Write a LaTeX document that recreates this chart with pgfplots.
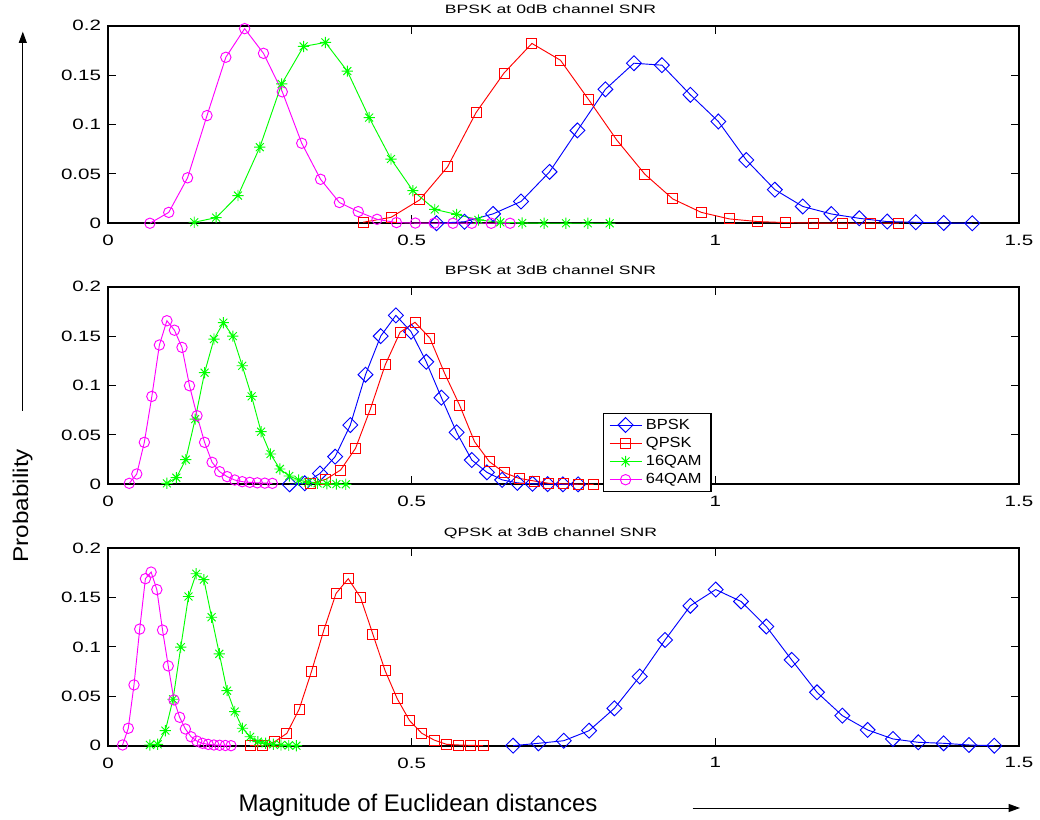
\documentclass[border=0pt]{standalone}
\usepackage{fontspec}
\setmainfont{Liberation Sans}
\newfontfamily\tickfont[FakeStretch=1.37]{Liberation Sans}
\newfontfamily\titlefont[FakeStretch=1.45]{Liberation Sans}
\newfontfamily\legfont[FakeStretch=1.12]{Liberation Sans}
\usepackage{pgfplots}
\pgfplotsset{compat=1.18}
\usetikzlibrary{arrows.meta}

\definecolor{mblue}{RGB}{0,0,255}
\definecolor{mred}{RGB}{255,0,0}
\definecolor{mgreen}{RGB}{0,255,0}
\definecolor{mmagenta}{RGB}{255,0,255}

% eight-armed asterisk marker
\pgfdeclareplotmark{mstar}{%
  \pgfpathmoveto{\pgfqpoint{-\pgfplotmarksize}{0pt}}%
  \pgfpathlineto{\pgfqpoint{\pgfplotmarksize}{0pt}}%
  \pgfpathmoveto{\pgfqpoint{0pt}{-\pgfplotmarksize}}%
  \pgfpathlineto{\pgfqpoint{0pt}{\pgfplotmarksize}}%
  \pgfpathmoveto{\pgfqpoint{-.707\pgfplotmarksize}{-.707\pgfplotmarksize}}%
  \pgfpathlineto{\pgfqpoint{.707\pgfplotmarksize}{.707\pgfplotmarksize}}%
  \pgfpathmoveto{\pgfqpoint{-.707\pgfplotmarksize}{.707\pgfplotmarksize}}%
  \pgfpathlineto{\pgfqpoint{.707\pgfplotmarksize}{-.707\pgfplotmarksize}}%
  \pgfusepathqstroke}

\pgfplotsset{
  panel/.style={
    scale only axis, width=683.25pt, height=148.2pt, anchor=south west,
    xmin=0, xmax=1.5, ymin=0, ymax=0.2,
    xtick={0,0.5,1,1.5}, xticklabels={0,0.5,1,1.5},
    ytick={0,0.05,0.1,0.15,0.2}, yticklabels={0,0.05,0.1,0.15,0.2},
    tick pos=both, tick align=inside, major tick length=6pt,
    axis line style={line width=1.3pt},
    every tick/.style={black, line width=0.8pt},
    xticklabel style={font=\tickfont\fontsize{11.25}{13}\selectfont, anchor=north, inner sep=0pt, yshift=-8.8pt},
    yticklabel style={font=\tickfont\fontsize{11.25}{13}\selectfont, anchor=east, inner sep=0pt, xshift=-5pt},
    title style={font=\titlefont\fontsize{9.1}{10}\selectfont, at={(0.5,1)}, anchor=base,
      xshift=-9.75pt, yshift=3pt, inner sep=0pt},
    clip=false,
    legend cell align=left,
    legend image code/.code={\draw[mark repeat=2, mark phase=2] plot coordinates {(0cm,0cm) (0.42cm,0cm) (0.84cm,0cm)};},
    legend style={at={(0.5437,0.361)}, anchor=north west, draw=black, line width=0.8pt, fill=white,
      font=\legfont\fontsize{11}{12}\selectfont, inner xsep=4pt, inner ysep=2pt, row sep=0.5pt,
      nodes={inner xsep=3pt}},
  },
  bpsk/.style={mblue, line width=0.7pt, mark=diamond, mark size=5.6pt, mark options={xscale=1.33, solid, mblue}},
  qpsk/.style={mred, line width=0.7pt, mark=square, mark size=3.75pt, mark options={solid, mred}},
  qam16/.style={mgreen, line width=0.7pt, mark=mstar, mark size=4.2pt, mark options={solid, mgreen}},
  qam64/.style={mmagenta, line width=0.7pt, mark=o, mark size=3.9pt, mark options={solid, mmagenta}},
}

\begin{document}
\begin{tikzpicture}
\useasboundingbox (0,0) rectangle (780pt,614.25pt);

% ---------------- BPSK at 0 dB ----------------
\begin{axis}[panel, at={(81pt,446.8pt)}, title={BPSK at 0dB channel SNR}]
\addplot[bpsk] coordinates {
(0.541,0) (0.587,0.0015) (0.634,0.0095) (0.680,0.022) (0.727,0.052) (0.773,0.094)
(0.819,0.1356) (0.866,0.162) (0.912,0.160) (0.959,0.130) (1.005,0.103) (1.051,0.064)
(1.098,0.034) (1.144,0.017) (1.191,0.0094) (1.237,0.005) (1.283,0.0017) (1.330,0.001)
(1.376,0.0003) (1.423,0)};
\addplot[qpsk] coordinates {
(0.420,0.001) (0.466,0.006) (0.513,0.0236) (0.559,0.057) (0.606,0.112) (0.652,0.152)
(0.698,0.182) (0.745,0.165) (0.791,0.1255) (0.838,0.084) (0.884,0.0496) (0.930,0.0246)
(0.977,0.011) (1.023,0.0044) (1.070,0.0017) (1.116,0.0007) (1.162,0.0002) (1.209,0)
(1.255,0) (1.302,0)};
\addplot[qam16] coordinates {
(0.142,0.001) (0.178,0.0057) (0.214,0.028) (0.250,0.077) (0.286,0.141) (0.322,0.179)
(0.358,0.183) (0.394,0.154) (0.430,0.107) (0.466,0.065) (0.502,0.033) (0.538,0.014)
(0.574,0.009) (0.610,0.0034) (0.646,0.001) (0.682,0.0003) (0.718,0) (0.754,0)
(0.790,0) (0.826,0)};
\addplot[qam64] coordinates {
(0.069,0) (0.100,0.011) (0.131,0.046) (0.163,0.109) (0.194,0.168) (0.225,0.197)
(0.256,0.172) (0.287,0.133) (0.319,0.081) (0.350,0.0445) (0.381,0.021) (0.412,0.0118)
(0.443,0.004) (0.475,0.0007) (0.506,0.0002) (0.537,0) (0.568,0) (0.599,0)
(0.631,0) (0.662,0)};
\end{axis}

% ---------------- BPSK at 3 dB ----------------
\begin{axis}[panel, at={(81pt,251.0pt)}, title={BPSK at 3dB channel SNR}]
\addplot[bpsk] coordinates {
(0.299,0) (0.324,0.001) (0.349,0.011) (0.374,0.028) (0.399,0.060) (0.424,0.111)
(0.449,0.150) (0.474,0.171) (0.499,0.1545) (0.524,0.124) (0.549,0.0877) (0.574,0.0526)
(0.599,0.0246) (0.624,0.0121) (0.649,0.0045) (0.674,0.0015) (0.699,0.0005) (0.724,0.0002)
(0.749,0) (0.774,0)};
\addplot[qpsk] coordinates {
(0.334,0.001) (0.3585,0.005) (0.383,0.0145) (0.4075,0.0364) (0.432,0.0762) (0.4565,0.121)
(0.481,0.154) (0.5055,0.164) (0.530,0.148) (0.5545,0.112) (0.579,0.080) (0.6035,0.0432)
(0.628,0.0229) (0.6525,0.0118) (0.677,0.006) (0.7015,0.0034) (0.726,0.001) (0.7505,0.0005)
(0.775,0.0002) (0.7995,0)};
\addplot[qam16] coordinates {
(0.097,0.001) (0.1125,0.0067) (0.128,0.025) (0.1435,0.066) (0.159,0.113) (0.1745,0.147)
(0.190,0.1636) (0.2055,0.150) (0.221,0.120) (0.2365,0.089) (0.252,0.0533) (0.2675,0.0307)
(0.283,0.0155) (0.2985,0.0084) (0.314,0.0044) (0.3295,0.002) (0.345,0.001) (0.3605,0.0005)
(0.376,0.0002) (0.3915,0)};
\addplot[qam64] coordinates {
(0.035,0.001) (0.0474,0.0105) (0.0598,0.0425) (0.0722,0.089) (0.0846,0.141) (0.097,0.1656)
(0.1094,0.156) (0.1218,0.1386) (0.1342,0.0998) (0.1466,0.0695) (0.159,0.0425) (0.1714,0.0223)
(0.1838,0.0128) (0.1962,0.0078) (0.2086,0.0044) (0.221,0.0027) (0.2334,0.002) (0.2458,0.0015)
(0.2582,0.0012) (0.2706,0.001)};
\legend{BPSK,QPSK,16QAM,64QAM}
\end{axis}

% ---------------- QPSK at 3 dB ----------------
\begin{axis}[panel, at={(81pt,55.0pt)}, title={QPSK at 3dB channel SNR}]
\addplot[bpsk] coordinates {
(0.667,0) (0.7087,0.0024) (0.7504,0.005) (0.7921,0.0152) (0.8338,0.0378) (0.8755,0.070)
(0.9172,0.107) (0.9589,0.1416) (1.0006,0.158) (1.0423,0.146) (1.084,0.1206) (1.1257,0.0868)
(1.1674,0.054) (1.2091,0.0304) (1.2508,0.0159) (1.2925,0.0068) (1.3342,0.0034) (1.3759,0.0024)
(1.4176,0.0007) (1.4593,0)};
\addplot[qpsk] coordinates {
(0.234,0) (0.2542,0) (0.2744,0.004) (0.2946,0.0125) (0.3148,0.037) (0.335,0.075)
(0.3552,0.1166) (0.3754,0.154) (0.3956,0.169) (0.4158,0.150) (0.436,0.113) (0.4562,0.076)
(0.4764,0.0473) (0.4966,0.0253) (0.5168,0.0125) (0.537,0.0057) (0.5572,0.0014) (0.5774,0.0007)
(0.5976,0.0003) (0.6178,0)};
\addplot[qam16] coordinates {
(0.069,0.0007) (0.0817,0.0014) (0.0944,0.0152) (0.1071,0.047) (0.1198,0.0997) (0.1325,0.151)
(0.1452,0.174) (0.1579,0.168) (0.1706,0.130) (0.1833,0.093) (0.196,0.0557) (0.2087,0.0345)
(0.2214,0.0176) (0.2341,0.009) (0.2468,0.004) (0.2595,0.0024) (0.2722,0.0014) (0.2849,0.0007)
(0.2976,0.0003) (0.3103,0)};
\addplot[qam64] coordinates {
(0.024,0.0007) (0.0334,0.0176) (0.0428,0.0615) (0.0522,0.118) (0.0616,0.169) (0.071,0.1757)
(0.0804,0.158) (0.0898,0.117) (0.0992,0.0807) (0.1086,0.0463) (0.118,0.0287) (0.1274,0.0169)
(0.1368,0.009) (0.1462,0.0047) (0.1556,0.0024) (0.165,0.0013) (0.1744,0.0007) (0.1838,0.0004)
(0.1932,0.0002) (0.2026,0)};
\end{axis}

% shared axis descriptions
\draw[line width=0.75pt, -{Triangle[length=8.5pt, width=6pt]}] (17.1pt,306.2pt) -- (17.1pt,590.5pt);
\node[rotate=90, anchor=base, inner sep=0pt, font=\fontsize{16}{19}\selectfont]
  at (21pt,234.9pt) {\scalebox{1.14}[1]{Probability}};
\node[anchor=base, inner sep=0pt, font=\fontsize{18}{21}\selectfont]
  at (313.5pt,5.5pt) {Magnitude of Euclidean distances};
\draw[line width=0.75pt, -{Triangle[length=8.5pt, width=6pt]}] (519.4pt,8.25pt) -- (765pt,8.25pt);
\end{tikzpicture}
\end{document}
